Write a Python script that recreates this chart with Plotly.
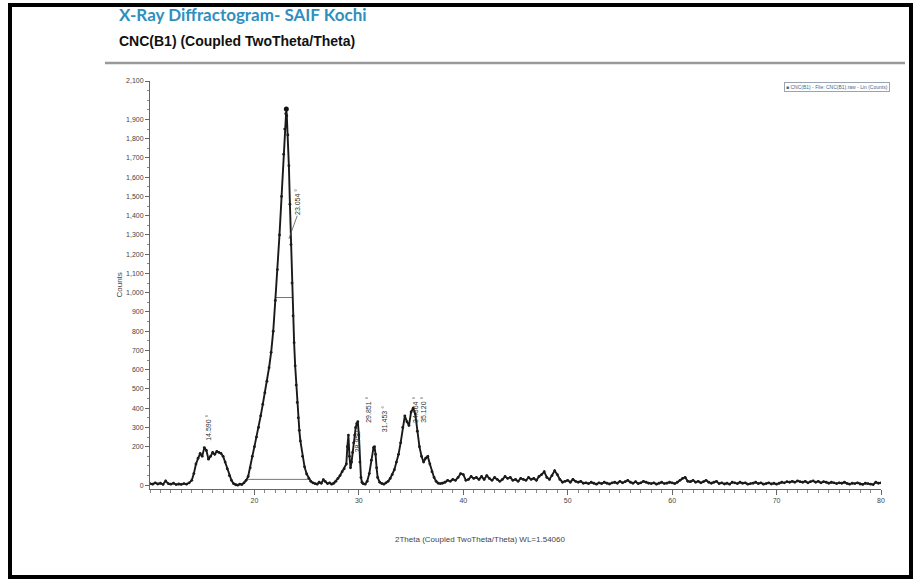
import plotly.graph_objects as go

# ---- diffractogram data: 2Theta (deg) and Counts, by angular region ----
low_theta = [10.0, 10.25, 10.5, 10.75, 11.0, 11.25, 11.5, 11.75, 12.0, 12.25, 12.5, 12.75,
             13.0, 13.25, 13.5, 13.75, 14.0, 14.2, 14.4, 14.6, 14.8, 15.0, 15.2, 15.4, 15.6,
             15.8, 16.0, 16.2, 16.4, 16.6, 16.8, 17.0, 17.2, 17.4, 17.6, 17.8, 18.0, 18.2,
             18.4, 18.6, 18.8, 19.0]
low_counts = [8, 5, 12, 6, 10, 4, 22, 8, 5, 10, 3, 6,
              4, 8, 5, 12, 25, 60, 110, 140, 165, 150, 195, 180, 135,
              150, 170, 160, 175, 170, 165, 150, 120, 85, 50, 25, 8, 2,
              0, 5, 3, 12]

main_theta = [19.2, 19.4, 19.6, 19.8, 20.0, 20.2, 20.4, 20.6, 20.8, 21.0, 21.2, 21.4, 21.6,
              21.8, 22.0, 22.2, 22.4, 22.6, 22.8, 22.9, 23.0, 23.054, 23.1, 23.2, 23.3, 23.4,
              23.5, 23.6, 23.7, 23.8, 23.9, 24.0, 24.1, 24.2, 24.3, 24.4, 24.6, 24.8, 25.0,
              25.2, 25.4, 25.6]
main_counts = [25, 45, 90, 150, 200, 250, 300, 360, 420, 480, 540, 610, 690,
               800, 960, 1120, 1300, 1500, 1720, 1850, 1930, 1955, 1920, 1820, 1660, 1460,
               1250, 1050, 880, 740, 620, 520, 430, 350, 285, 230, 150, 95, 58,
               35, 20, 12]

mid_theta = [25.8, 26.0, 26.2, 26.4, 26.6, 26.8, 27.0, 27.2, 27.4, 27.6, 27.8, 28.0, 28.2,
             28.4, 28.6, 28.8, 28.9, 29.0, 29.1, 29.2, 29.3, 29.4, 29.5, 29.6, 29.7, 29.8,
             29.9, 30.0, 30.1, 30.2, 30.3, 30.4, 30.6, 30.8, 31.0, 31.2, 31.4, 31.5, 31.6,
             31.7, 31.8, 32.0, 32.2, 32.4, 32.6, 32.8, 33.0, 33.2, 33.4, 33.6, 33.8, 34.0,
             34.2, 34.4, 34.6, 34.8, 35.0, 35.2, 35.4, 35.6, 35.8, 36.0, 36.2, 36.4, 36.6,
             36.8, 37.0, 37.2, 37.4, 37.6, 37.8]
mid_counts = [8, 5, 15, 10, 28, 18, 8, 12, 5, 10, 20, 35, 50,
              70, 85, 110, 200, 260, 150, 90, 120, 170, 220, 260, 300, 320,
              330, 260, 120, 40, 15, 8, 5, 20, 60, 130, 195, 200, 160,
              90, 40, 15, 8, 5, 12, 20, 35, 55, 80, 120, 160, 220,
              300, 360, 330, 310, 380, 400, 370, 280, 200, 150, 120, 140, 150,
              110, 70, 40, 20, 10, 8]

tail_theta = [38.0, 38.25, 38.5, 38.75, 39.0, 39.25, 39.5, 39.75, 40.0, 40.25, 40.5, 40.75,
              41.0, 41.25, 41.5, 41.75, 42.0, 42.25, 42.5, 42.75, 43.0, 43.25, 43.5, 43.75,
              44.0, 44.25, 44.5, 44.75, 45.0, 45.25, 45.5, 45.75, 46.0, 46.25, 46.5, 46.75,
              47.0, 47.25, 47.5, 47.75, 48.0, 48.25, 48.5, 48.75, 49.0, 49.25, 49.5, 49.75,
              50.0, 50.25, 50.5, 50.75, 51.0, 51.25, 51.5, 51.75, 52.0, 52.25, 52.5, 52.75,
              53.0, 53.25, 53.5, 53.75, 54.0, 54.25, 54.5, 54.75, 55.0, 55.25, 55.5, 55.75,
              56.0, 56.25, 56.5, 56.75, 57.0, 57.25, 57.5, 57.75, 58.0, 58.25, 58.5, 58.75,
              59.0, 59.25, 59.5, 59.75, 60.0, 60.25, 60.5, 60.75, 61.0, 61.25, 61.5, 61.75,
              62.0, 62.25, 62.5, 62.75, 63.0, 63.25, 63.5, 63.75, 64.0, 64.25, 64.5, 64.75,
              65.0, 65.25, 65.5, 65.75, 66.0, 66.25, 66.5, 66.75, 67.0, 67.25, 67.5, 67.75,
              68.0, 68.25, 68.5, 68.75, 69.0, 69.25, 69.5, 69.75, 70.0, 70.25, 70.5, 70.75,
              71.0, 71.25, 71.5, 71.75, 72.0, 72.25, 72.5, 72.75, 73.0, 73.25, 73.5, 73.75,
              74.0, 74.25, 74.5, 74.75, 75.0, 75.25, 75.5, 75.75, 76.0, 76.25, 76.5, 76.75,
              77.0, 77.25, 77.5, 77.75, 78.0, 78.25, 78.5, 78.75, 79.0, 79.25, 79.5, 79.75,
              80.0]
tail_counts = [10, 15, 25, 20, 30, 25, 40, 60, 55, 25, 30, 45,
               35, 40, 30, 45, 30, 50, 35, 25, 40, 30, 20, 30,
               45, 35, 40, 25, 30, 20, 35, 30, 25, 40, 30, 35,
               25, 45, 55, 70, 40, 30, 50, 75, 55, 30, 15, 20,
               25, 15, 30, 20, 15, 20, 10, 12, 8, 15, 10, 5,
               12, 8, 15, 10, 6, 12, 15, 10, 20, 12, 18, 25,
               15, 10, 18, 8, 12, 20, 15, 10, 8, 12, 5, 10,
               15, 8, 10, 15, 12, 8, 15, 25, 35, 40, 20, 18,
               25, 15, 20, 12, 18, 25, 15, 10, 15, 20, 8, 12,
               6, 10, 5, 15, 12, 8, 15, 10, 12, 5, 8, 10,
               15, 8, 12, 5, 8, 12, 6, 10, 5, 10, 15, 12,
               18, 15, 20, 15, 22, 18, 15, 20, 12, 18, 22, 15,
               20, 12, 18, 15, 10, 15, 12, 8, 12, 10, 15, 8,
               5, 10, 8, 12, 6, 4, 10, 8, 5, 3, 15, 10,
               12]

# ---- peak search results ----
peak_pos = [14.590, 23.054, 28.950, 29.851, 31.453, 34.364, 35.120]
peak_counts = [195, 1955, 260, 330, 200, 360, 400]
peak_label_y = [300, 1470, 240, 390, 345, 390, 390]

# ---- background and FWHM construction for the main reflection ----
bg_theta = [19.3, 25.1]
bg_counts = [30, 30]
fwhm_theta = [22.0, 23.65]
fwhm_counts = [975, 975]

x_ticks = [20, 30, 40, 50, 60, 70, 80]
y_ticks = [0, 200, 300, 400, 500, 600, 700, 800, 900, 1000, 1100, 1200,
           1300, 1400, 1500, 1600, 1700, 1800, 1900, 2100]

two_theta = low_theta + main_theta + mid_theta + tail_theta
counts = low_counts + main_counts + mid_counts + tail_counts

# plot-area geometry in pixels (used to place paper-referenced decorations)
W, H = 915, 581
L, R, T, B = 150, 881, 81, 489


def px(x):
    return (x - L) / (R - L)


def py(y):
    return (B - y) / (B - T)


fig = go.Figure()

fig.add_trace(go.Scatter(
    x=bg_theta, y=bg_counts, mode="lines",
    line=dict(color="#777777", width=1), showlegend=False, hoverinfo="skip"))
fig.add_trace(go.Scatter(
    x=fwhm_theta, y=fwhm_counts, mode="lines",
    line=dict(color="#777777", width=1), showlegend=False, hoverinfo="skip"))

fig.add_trace(go.Scatter(
    x=two_theta, y=counts, mode="lines+markers",
    line=dict(color="#1a1a1a", width=1.9),
    marker=dict(color="#1a1a1a", size=2.8),
    showlegend=False, name="CNC(B1)"))

fig.add_trace(go.Scatter(
    x=[peak_pos[1]], y=[peak_counts[1]], mode="markers",
    marker=dict(color="#111111", size=5), showlegend=False, hoverinfo="skip"))

annotations = []
for pos, ly in zip(peak_pos, peak_label_y):
    annotations.append(dict(
        x=pos + 1.0, y=ly, xref="x", yref="y", text=f"{pos:.3f} °",
        textangle=-90, showarrow=False,
        font=dict(family="Liberation Sans, Arial", size=7, color="#333333")))

annotations += [
    dict(x=px(117), y=py(15), xref="paper", yref="paper", xanchor="left", yanchor="middle",
         text="<b>X-Ray Diffractogram- SAIF Kochi</b>", showarrow=False,
         font=dict(family="Lato, Open Sans", size=17, color="#2f8fbf")),
    dict(x=px(117), y=py(41), xref="paper", yref="paper", xanchor="left", yanchor="middle",
         text="<b>CNC(B1) (Coupled TwoTheta/Theta)</b>", showarrow=False,
         font=dict(family="Liberation Sans, Arial", size=14, color="#111111")),
    dict(x=px(112), y=py(285), xref="paper", yref="paper", text="Counts", textangle=-90,
         showarrow=False, font=dict(family="Liberation Sans, Arial", size=8, color="#444444")),
    dict(x=px(480), y=py(546), xref="paper", yref="paper",
         text="2Theta (Coupled TwoTheta/Theta) WL=1.54060", showarrow=False,
         font=dict(family="Liberation Sans, Arial", size=8, color="#444444")),
    dict(x=px(784), y=py(87), xref="paper", yref="paper", xanchor="left", yanchor="middle",
         text="■ CNC(B1) - File: CNC(B1).raw - Lin (Counts)", showarrow=False,
         bordercolor="#9aa4b0", borderwidth=1, borderpad=1,
         font=dict(family="Liberation Sans, Arial", size=5, color="#4a6a8a")),
]

shapes = [
    # page frame
    dict(type="rect", xref="paper", yref="paper", x0=px(10), x1=px(911), y0=py(577), y1=py(5),
         line=dict(color="#000000", width=4), layer="above"),
    # rule under the headings
    dict(type="line", xref="paper", yref="paper", x0=px(105), x1=px(905), y0=py(63), y1=py(63),
         line=dict(color="#9a9a9a", width=2.5)),
    # leader from the main peak label
    dict(type="line", xref="x", yref="y", x0=23.3, y0=1280, x1=24.1, y1=1400,
         line=dict(color="#555555", width=0.8)),
]

fig.update_layout(
    width=W, height=H,
    margin=dict(l=L, r=W - R, t=T, b=H - B),
    paper_bgcolor="white", plot_bgcolor="white",
    annotations=annotations, shapes=shapes,
    xaxis=dict(
        range=[10, 80], tickvals=x_ticks, ticks="outside", ticklen=5, tickwidth=1,
        tickcolor="#666666", showline=True, linecolor="#666666", linewidth=1,
        showgrid=False, zeroline=False,
        tickfont=dict(family="Liberation Sans, Arial", size=7, color="#444444"),
        minor=dict(dtick=1, ticks="outside", ticklen=3, tickcolor="#888888", showgrid=False)),
    yaxis=dict(
        range=[-20, 2100], tickvals=y_ticks, tickformat=",d", ticks="outside", ticklen=4,
        tickwidth=1, tickcolor="#666666", showline=True, linecolor="#666666", linewidth=1,
        showgrid=False, zeroline=False,
        tickfont=dict(family="Liberation Sans, Arial", size=7, color="#444444"),
        minor=dict(dtick=50, ticks="outside", ticklen=2, tickcolor="#888888", showgrid=False)),
)

fig.write_html("out.html")
